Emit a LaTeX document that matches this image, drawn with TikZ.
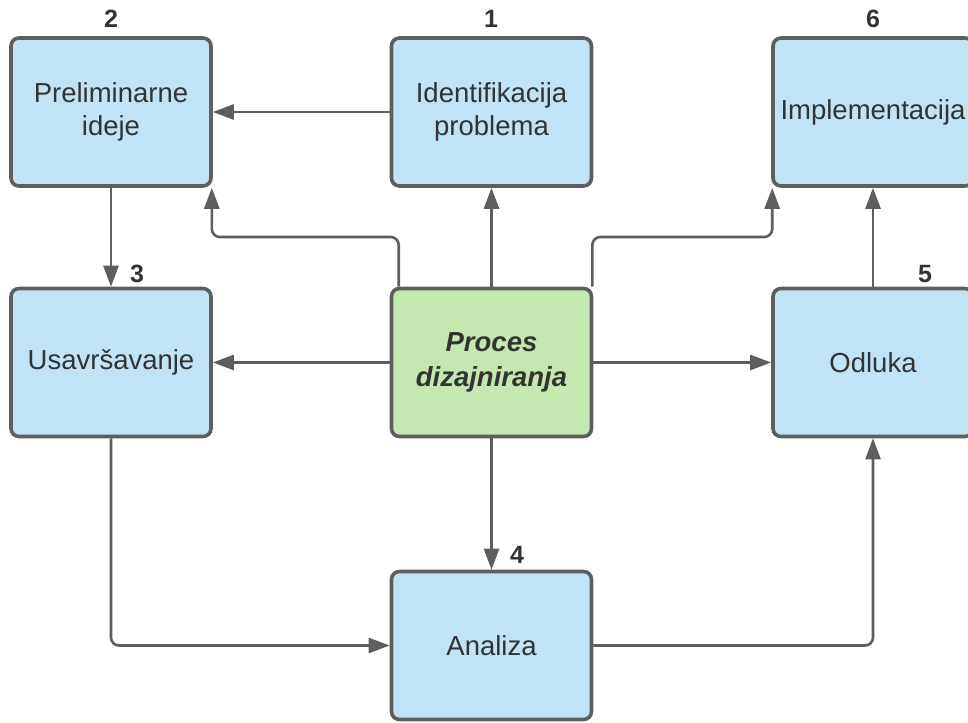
\documentclass[tikz,border=0pt]{standalone}
\usepackage{fontspec}
\setmainfont{Liberation Sans}
\usetikzlibrary{arrows.meta,calc}
\definecolor{boxblue}{HTML}{C2E3F5}
\definecolor{boxgreen}{HTML}{C5E7B0}
\definecolor{linegray}{HTML}{5E5E5E}
\definecolor{txtgray}{HTML}{333333}
\tikzset{
  box/.style={draw=linegray, line width=3.6pt, rounded corners=8pt, fill=boxblue,
    minimum width=200pt, minimum height=148pt, align=center, text=txtgray,
    font=\fontsize{27.5}{33}\selectfont},
  mainbox/.style={box, fill=boxgreen, font=\fontsize{27.5}{35}\selectfont\bfseries\itshape},
  conn/.style={draw=linegray, line width=2.6pt, rounded corners=8pt,
    -{Triangle[length=21pt,width=15pt]}},
  num/.style={text=txtgray, font=\fontsize{25}{30}\selectfont\bfseries, inner sep=0pt}
}
\begin{document}
\begin{tikzpicture}[x=1pt,y=-1pt]
\useasboundingbox (0,0) rectangle (968,722);
\clip (0,0) rectangle (968,722);
\node[box] (b2) at (111,112) {Preliminarne\\ideje};
\node[box] (b1) at (491.5,112) {Identifikacija\\problema};
\node[box] (b6) at (873,112) {Implementacija};
\node[box] (b3) at (111,362.5) {Usavršavanje};
\node[mainbox] (c) at (491.5,362.5) {Proces\\dizajniranja};
\node[box] (b5) at (873,362.5) {Odluka};
\node[box] (b4) at (491.5,645.5) {Analiza};
\node[num] (n2) at (111,19) {2};
\node[num] (n1) at (491,19) {1};
\node[num] (n6) at (873,19) {6};
\node[num] (n3) at (137,274) {3};
\node[num] (n5) at (925,274) {5};
\node[num] (n4) at (517,555) {4};
\coordinate (k) at (0,237);
\draw[conn] (b1.west) -- (b2.east);
\draw[conn] (c.north) -- (b1.south);
\draw[conn] ([xshift=9pt]c.north west) |- ([xshift=-1pt]b2.south east |- k) -- ([xshift=-1pt]b2.south east);
\draw[conn] ([xshift=-1pt]c.north east) |- ([xshift=1pt]b6.south west |- k) -- ([xshift=1pt]b6.south west);
\draw[conn] (b5.north) -- (b6.south);
\draw[conn] (b2.south) -- (b3.north);
\draw[conn] (c.west) -- (b3.east);
\draw[conn] (c.east) -- (b5.west);
\draw[conn] (c.south) -- (b4.north);
\draw[conn] (b3.south) |- (b4.west);
\draw[conn] (b4.east) -| (b5.south);
\end{tikzpicture}
\end{document}
